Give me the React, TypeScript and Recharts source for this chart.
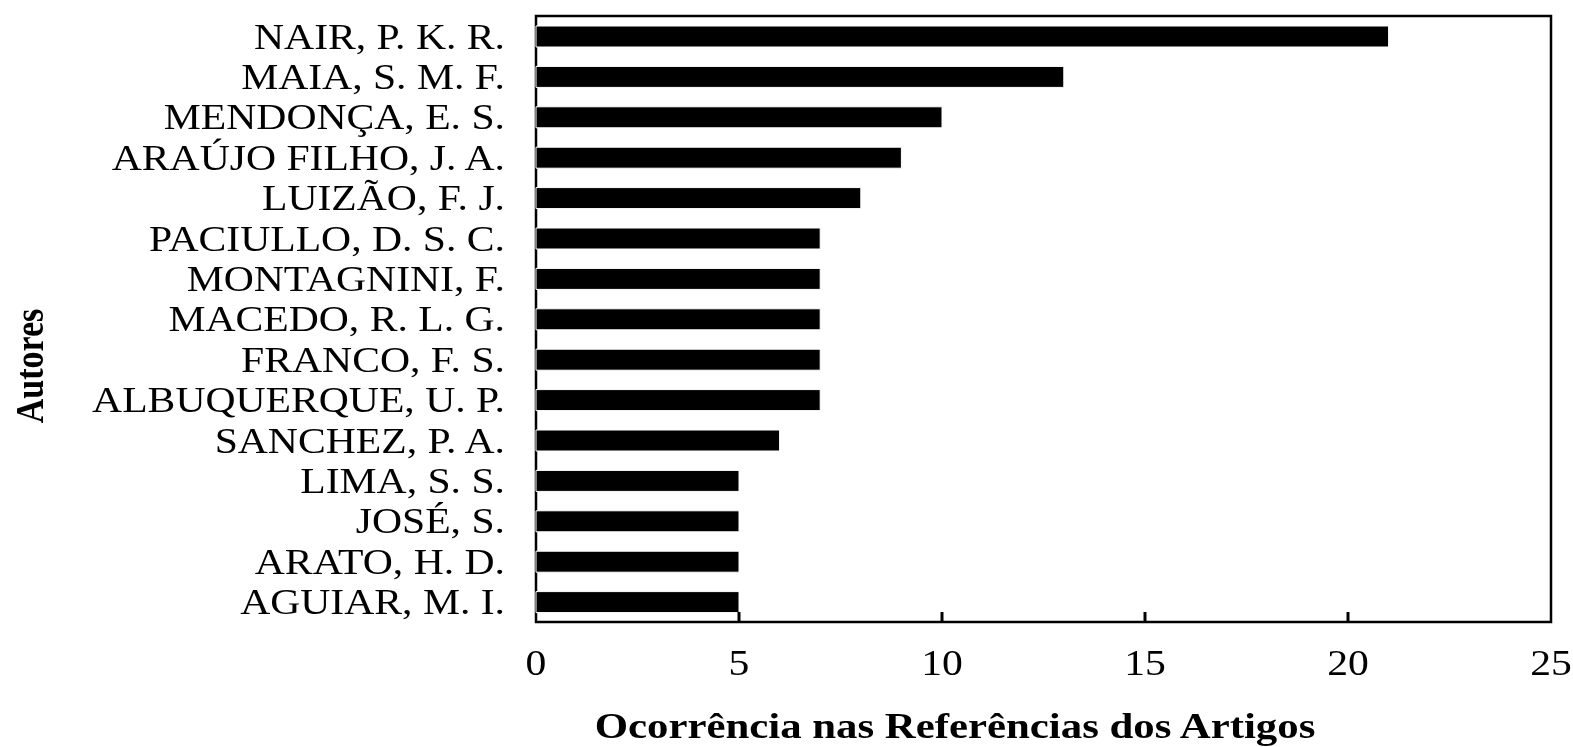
import { Bar, BarChart, ReferenceArea, XAxis, YAxis } from 'recharts';

const autores = [
  'NAIR, P. K. R.',
  'MAIA, S. M. F.',
  'MENDONÇA, E. S.',
  'ARAÚJO FILHO, J. A.',
  'LUIZÃO, F. J.',
  'PACIULLO, D. S. C.',
  'MONTAGNINI, F.',
  'MACEDO, R. L. G.',
  'FRANCO, F. S.',
  'ALBUQUERQUE, U. P.',
  'SANCHEZ, P. A.',
  'LIMA, S. S.',
  'JOSÉ, S.',
  'ARATO, H. D.',
  'AGUIAR, M. I.',
];

const ocorrencias = [21, 13, 10, 9, 8, 7, 7, 7, 7, 7, 6, 5, 5, 5, 5];

const xTicks = [0, 5, 10, 15, 20, 25];

const data = autores.map((nome, i) => ({ nome, valor: ocorrencias[i] }));

const FONT = '"Liberation Serif", "Times New Roman", serif';
const STRETCH = 1.19; // the reference text is a bit wider than plain Times
const X_TICK_MARGIN = 28;

const XTick = (props: any) => {
  const { x, y, payload } = props;
  const axisY = y - X_TICK_MARGIN;
  const edge = payload.value === 0 || payload.value === 25;
  return (
    <g>
      {!edge && <line x1={x} x2={x} y1={axisY} y2={axisY - 10} stroke="#000" strokeWidth={3} />}
      <text
        transform={`translate(${x},${y}) scale(${STRETCH},1)`}
        dy="0.71em"
        textAnchor="middle"
        fontFamily={FONT}
        fontSize={35}
        fill="#000"
      >
        {payload.value}
      </text>
    </g>
  );
};

const YTick = (props: any) => {
  const { x, y, payload } = props;
  return (
    <text
      transform={`translate(${x},${y}) scale(${STRETCH},1)`}
      dy="0.355em"
      textAnchor="end"
      fontFamily={FONT}
      fontSize={35}
      fill="#000"
    >
      {payload.value}
    </text>
  );
};

const App = () => {
  return (
    // fixed box so the page never gets scrollbars
    <div style={{ position: 'fixed', left: 8, top: 8, width: 1565, height: 739, overflow: 'hidden' }}>
      <BarChart
        width={1565}
        height={739}
        data={data}
        layout="vertical"
        margin={{ top: 8, right: 22, left: 0, bottom: 0 }}
        barCategoryGap={0}
      >
        <XAxis
          type="number"
          domain={[0, 25]}
          ticks={xTicks}
          tickLine={false}
          tickSize={0}
          tickMargin={X_TICK_MARGIN}
          axisLine={false}
          height={125}
          tick={<XTick />}
          label={{
            content: () => (
              <text
                transform={`translate(947,730) scale(${STRETCH},1)`}
                textAnchor="middle"
                fontFamily={FONT}
                fontWeight="bold"
                fontSize={36}
                fill="#000"
              >
                Ocorrência nas Referências dos Artigos
              </text>
            ),
          }}
        />
        <YAxis
          type="category"
          dataKey="nome"
          width={528}
          tickLine={false}
          axisLine={false}
          tickSize={0}
          tickMargin={31}
          interval={0}
          tick={<YTick />}
          label={{
            content: () => (
              <text
                transform={`translate(35,358) scale(${STRETCH},1) rotate(-90)`}
                textAnchor="middle"
                fontFamily={FONT}
                fontWeight="bold"
                fontSize={34}
                fill="#000"
              >
                Autores
              </text>
            ),
          }}
        />
        <Bar dataKey="valor" fill="#000" stroke="#fff" strokeWidth={1} barSize={21} isAnimationActive={false} />
        <ReferenceArea x1={0} x2={25} fill="none" stroke="#000" strokeWidth={2.5} />
      </BarChart>
    </div>
  );
};

export default App;
